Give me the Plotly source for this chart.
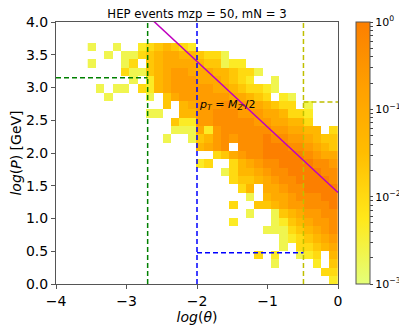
import numpy as np
import plotly.graph_objects as go

title = "HEP events mzp = 50, mN = 3"
mzp = 50

# histogram bins: log(theta) on x, log(P) on y
x_edges = np.linspace(-3.55, 0.0, 31)
y_edges = np.linspace(0.0, 3.81, 31)

# colour level of each cell, top row first
# '.' = empty bin, 1..9 = 10^-3 .. 10^0 in log steps
rows = [
    "..............................",
    "1..1..2345432.................",
    "..1.1134566554331.............",
    "1...13.456666544122...........",
    "....31145677666554331.........",
    ".....1.2567776665432..1.......",
    ".1.11.32567777766543321.......",
    "..1....1.4677777766543.21.....",
    ".........4.56777877665433.1...",
    ".......11..5577888777665332...",
    "..........42277888887766553...",
    "..........111627888888776655.3",
    ".........1..145787888988776544",
    ".............5678.888999887654",
    "...............346788999998766",
    ".............23..3567889999887",
    "................13556788999988",
    ".................3445678899998",
    "..................35.667889999",
    "...................1.566788899",
    ".................3..4456778889",
    "...................1..14567788",
    ".................2....12456778",
    ".....................111345678",
    ".......................1234567",
    ".......................1.33456",
    "....................3.2..123.5",
    "......................1....2.4",
    "............................33",
    ".............................2",
]

# cut lines: (theta cut, P cut) per colour
green_cut = (-2.7, 3.15)
blue_cut = (-2.0, 0.477)
olive_cut = (-0.49, 2.78)

z = []
for row in reversed(rows):
    z.append([None if c == "." else -3 + int(c) / 3 for c in row])

wistia = [[0.0, "#e4ff7a"], [0.25, "#ffe81a"], [0.5, "#ffbd00"],
          [0.75, "#ffa000"], [1.0, "#fc7f00"]]

# colorbar ticks (major + minor decades)
cb_vals, cb_text = [], []
for n in [-3, -2, -1]:
    cb_vals.append(n)
    cb_text.append("10<sup>\u2212%d</sup>" % -n)
    for k in range(2, 10):
        cb_vals.append(n + np.log10(k))
        cb_text.append("")
cb_vals.append(0)
cb_text.append("10<sup>0</sup>")

fig = go.Figure()
fig.add_trace(go.Heatmap(
    x=x_edges, y=y_edges, z=z,
    colorscale=wistia, zmin=-3, zmax=0,
    hoverongaps=False,
    colorbar=dict(
        x=1.064, xanchor="left", y=0.5, yanchor="middle",
        len=1, lenmode="fraction", thickness=14,
        xpad=0, ypad=0,
        outlinewidth=1, outlinecolor="#555",
        tickvals=cb_vals, ticktext=cb_text,
        ticks="outside", ticklen=3, tickcolor="#444",
        tickfont=dict(size=11, color="black"),
    ),
))

dash = "5px,3px"
lw = 1.5
# green
fig.add_trace(go.Scatter(
    x=[green_cut[0], green_cut[0], None, -4, green_cut[0]],
    y=[0, 4, None, green_cut[1], green_cut[1]],
    mode="lines", line=dict(color="#008000", width=lw, dash=dash), showlegend=False))
# blue
fig.add_trace(go.Scatter(
    x=[blue_cut[0], blue_cut[0], None, blue_cut[0], olive_cut[0]],
    y=[0, 4, None, blue_cut[1], blue_cut[1]],
    mode="lines", line=dict(color="#0000ff", width=lw, dash=dash), showlegend=False))
# olive
fig.add_trace(go.Scatter(
    x=[olive_cut[0], olive_cut[0], None, olive_cut[0], 0],
    y=[0, 4, None, olive_cut[1], olive_cut[1]],
    mode="lines", line=dict(color="#bfbf00", width=lw, dash=dash), showlegend=False))

# pT = MZ'/2  ->  log P = log(mzp/2) - log(theta)
lx = [-4, 0]
ly = [np.log10(mzp / 2) - v for v in lx]
fig.add_trace(go.Scatter(x=lx, y=ly, mode="lines",
                         line=dict(color="#bf00bf", width=1.5), showlegend=False))

fig.add_annotation(x=-2.0, y=2.73, xanchor="left", yanchor="middle", showarrow=False,
                   text="<i>p<sub>T</sub></i> = <i>M<sub>Z'</sub></i>/2",
                   font=dict(size=11, color="black"))

axis_style = dict(showline=True, linecolor="#555", linewidth=1, mirror=True,
                  ticks="outside", ticklen=4, tickcolor="#555",
                  showgrid=False, zeroline=False, automargin=False,
                  tickfont=dict(size=14, color="black"))

fig.update_xaxes(range=[-4, 0], tickvals=[-4, -3, -2, -1, 0],
                 title=dict(text="<i>log</i>(<i>\u03b8</i>)", font=dict(size=14), standoff=4),
                 **axis_style)
fig.update_yaxes(range=[0, 4], dtick=0.5, tickformat=".1f",
                 title=dict(text="<i>log</i>(<i>P</i>) [GeV]", font=dict(size=14), standoff=6),
                 **axis_style)

# page body adds an 8px offset, so the figure is 8px smaller than the window
fig.update_layout(
    width=399, height=324,
    margin=dict(l=48, r=69, t=14, b=48, autoexpand=False),
    title=dict(text=title, x=189 / 399, xanchor="center", y=0.981, yanchor="middle",
               font=dict(size=11.7, color="black")),
    font=dict(family="DejaVu Sans", color="black"),
    plot_bgcolor="white", paper_bgcolor="white",
    showlegend=False,
)

fig.write_html("out.html")
